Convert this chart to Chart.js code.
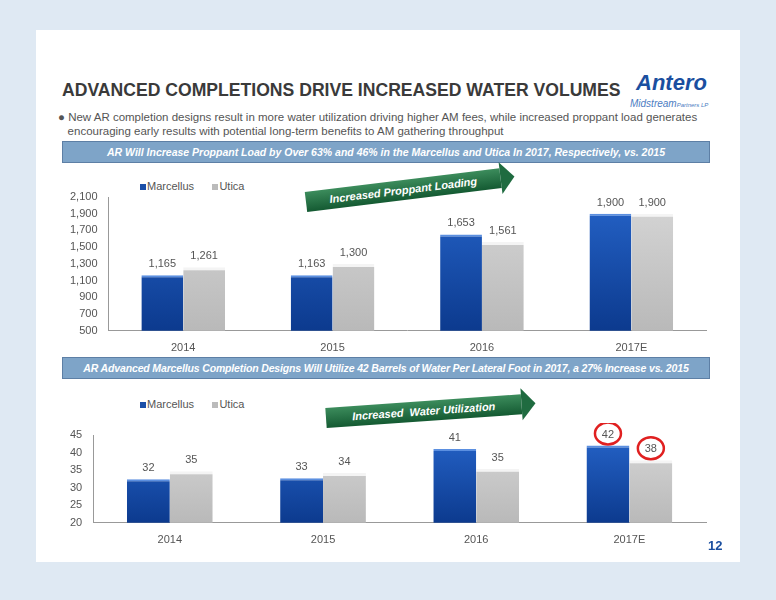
<!DOCTYPE html>
<html><head><meta charset="utf-8">
<script src="https://cdn.jsdelivr.net/npm/chart.js@4"></script>
<style>
body{margin:0;background:#dfe9f3;font-family:"Liberation Sans",Arial,sans-serif;}
#page{position:absolute;left:36px;top:30px;width:704px;height:532px;background:#fff;}
.abs{position:absolute;}
h1{position:absolute;left:26px;top:50px;margin:0;font-size:17.6px;font-weight:bold;color:#3a3a3a;white-space:nowrap;}
.logo{left:600px;top:40px;color:#1b4fa0;font-weight:bold;font-style:italic;font-size:22px;}
.logo2{left:594px;top:68px;color:#4b7cc2;font-style:italic;font-size:10px;}
.bullet{left:22px;top:80px;width:680px;font-size:11.5px;color:#555;line-height:14px;}
.banner{left:26px;width:646px;height:20px;background:#7ea4c8;border:1px solid #5d7fa5;color:#fff;font-style:italic;font-weight:bold;font-size:10.5px;text-align:center;line-height:20px;white-space:nowrap;overflow:hidden;}
.legend{font-size:11px;color:#555;}
.sq{display:inline-block;width:6px;height:6px;margin-right:1px;}
.arrow{height:20px;background:linear-gradient(#3c8c5c,#145a32);color:#fff;font-weight:bold;font-style:italic;font-size:11px;line-height:20px;text-align:center;transform-origin:left center;}
.arrow:after{content:"";position:absolute;right:-14px;top:-6px;border-left:14px solid #1f6b40;border-top:16px solid transparent;border-bottom:16px solid transparent;}
.num{left:672px;top:508px;color:#1b4fa0;font-weight:bold;font-size:13px;}
</style></head><body>
<div id="page">
<h1>ADVANCED COMPLETIONS DRIVE INCREASED WATER VOLUMES</h1>
<div class="abs logo">Antero</div>
<div class="abs logo2">Midstream<span style="font-size:6px">Partners LP</span></div>
<div class="abs bullet">● New AR completion designs result in more water utilization driving higher AM fees, while increased proppant load generates<br>&nbsp;&nbsp;&nbsp;encouraging early results with potential long-term benefits to AM gathering throughput</div>
<div class="abs banner" style="top:111px">AR Will Increase Proppant Load by Over 63% and 46% in the Marcellus and Utica In 2017, Respectively, vs. 2015</div>
<div class="abs banner" style="top:327px;letter-spacing:-0.15px">AR Advanced Marcellus Completion Designs Will Utilize 42 Barrels of Water Per Lateral Foot in 2017, a 27% Increase vs. 2015</div>
<div class="abs arrow" style="left:270px;top:162px;width:196px;transform:rotate(-7deg)">Increased Proppant Loading</div>
<div class="abs arrow" style="left:290px;top:378px;width:196px;transform:rotate(-4deg)">Increased&nbsp; Water Utilization</div>
<div class="abs legend" style="left:104px;top:150px"><span class="sq" style="background:#1a4fa8"></span>Marcellus&nbsp;&nbsp;&nbsp;&nbsp;&nbsp;&nbsp;<span class="sq" style="background:#bbb"></span>Utica</div>
<div class="abs legend" style="left:104px;top:368px"><span class="sq" style="background:#1a4fa8"></span>Marcellus&nbsp;&nbsp;&nbsp;&nbsp;&nbsp;&nbsp;<span class="sq" style="background:#bbb"></span>Utica</div>
<div class="abs" style="left:4px;top:155px;width:680px;height:173px"><canvas id="c1"></canvas></div>
<div class="abs" style="left:4px;top:393px;width:680px;height:127px"><canvas id="c2"></canvas></div>
<div class="abs num">12</div>
</div>
<script>
const years = ["2014", "2015", "2016", "2017E"];
const proppantMarcellus = [1165, 1163, 1653, 1900];
const proppantUtica = [1261, 1300, 1561, 1900];
const proppantTicks = [500, 700, 900, 1100, 1300, 1500, 1700, 1900, 2100];
const waterMarcellus = [32.4, 32.7, 41, 42];
const waterUtica = [34.7, 34.2, 35.4, 37.8];
const waterTicks = [20, 25, 30, 35, 40, 45];
const circled = [[3, 0], [3, 1]];

function grad(ctx, c1, c2) {
  const area = ctx.chart.chartArea;
  if (!area) return c1;
  const g = ctx.chart.ctx.createLinearGradient(0, area.top, 0, area.bottom);
  g.addColorStop(0, c1); g.addColorStop(1, c2);
  return g;
}

const labelsPlugin = {
  id: "vals",
  afterDatasetsDraw(chart, args, opts) {
    const ctx = chart.ctx;
    ctx.save();
    ctx.font = "11px 'Liberation Sans', Arial";
    ctx.fillStyle = "#555";
    ctx.textAlign = "center";
    chart.data.datasets.forEach((ds, di) => {
      chart.getDatasetMeta(di).data.forEach((bar, i) => {
        const v = ds.data[i];
        const y = bar.y - 8;
        ctx.fillText(opts.fmt(v), bar.x, y);
        if (opts.circles.some(c => c[0] === i && c[1] === di)) {
          ctx.strokeStyle = "#e02020"; ctx.lineWidth = 2.5;
          ctx.beginPath(); ctx.ellipse(bar.x, y - 4, 13, 11, 0, 0, Math.PI * 2); ctx.stroke();
        }
      });
    });
    ctx.restore();
  }
};

function makeChart(id, a, b, ticks, fmt, circles) {
  const min = ticks[0], max = ticks[ticks.length - 1];
  new Chart(document.getElementById(id), {
    type: "bar",
    data: {
      labels: years,
      datasets: [
        { label: "Marcellus", data: a, backgroundColor: c => grad(c, "#2563c8", "#0c3a8e"), borderColor: "#5b8fe0", borderWidth: { top: 2 }, barPercentage: 1, categoryPercentage: 0.56 },
        { label: "Utica", data: b, backgroundColor: c => grad(c, "#d6d6d6", "#b9b9b9"), borderColor: "#f4f4f4", borderWidth: { top: 3 }, barPercentage: 1, categoryPercentage: 0.56 }
      ]
    },
    options: {
      responsive: true, maintainAspectRatio: false, animation: false,
      layout: { padding: { top: 12, right: 14, left: 27 } },
      plugins: { legend: { display: false }, tooltip: { enabled: false }, vals: { fmt, circles } },
      scales: {
        x: { grid: { display: false }, border: { color: "#999" }, ticks: { color: "#555", font: { size: 11 } } },
        y: {
          min, max, afterBuildTicks: ax => { ax.ticks = ticks.map(v => ({ value: v })); },
          grid: { display: false }, border: { color: "#999" },
          ticks: { autoSkip: false, color: "#555", font: { size: 11 }, callback: v => v.toLocaleString("en-US") }
        }
      }
    },
    plugins: [labelsPlugin]
  });
}

makeChart("c1", proppantMarcellus, proppantUtica, proppantTicks, v => v.toLocaleString("en-US"), []);
makeChart("c2", waterMarcellus, waterUtica, waterTicks, v => String(Math.round(v)), circled);
</script>
</body></html>
